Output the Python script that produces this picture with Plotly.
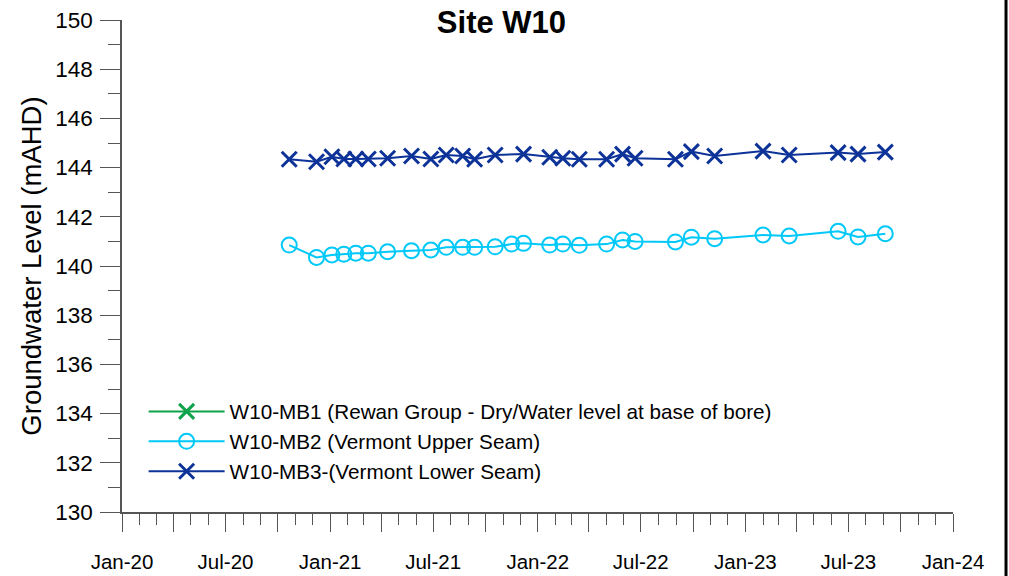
import plotly.graph_objects as go

# ---------------- data ----------------
# MB1 is dry (water level at base of bore) - no plotted levels
mb1_dates = ["2020-10-21"]
mb1_levels = [None]

mb2_dates = [
    "2020-10-21", "2020-12-08", "2021-01-04", "2021-01-25", "2021-02-15", "2021-03-09",
    "2021-04-12", "2021-05-24", "2021-06-27", "2021-07-24", "2021-08-22", "2021-09-12",
    "2021-10-18", "2021-11-16", "2021-12-07", "2022-01-22", "2022-02-14", "2022-03-15",
    "2022-05-02", "2022-05-30", "2022-06-21", "2022-08-31", "2022-09-28", "2022-11-08",
    "2023-02-01", "2023-03-19", "2023-06-13", "2023-07-18", "2023-09-04",
]
mb2_levels = [
    140.85, 140.35, 140.45, 140.48, 140.52, 140.52,
    140.58, 140.62, 140.65, 140.76, 140.76, 140.76,
    140.78, 140.89, 140.92, 140.85, 140.89, 140.84,
    140.89, 141.06, 141.00, 140.98, 141.17, 141.11,
    141.26, 141.22, 141.41, 141.18, 141.31,
]

mb3_dates = [
    "2020-10-21", "2020-12-08", "2021-01-04", "2021-01-25", "2021-02-15", "2021-03-09",
    "2021-04-12", "2021-05-24", "2021-06-27", "2021-07-24", "2021-08-22", "2021-09-12",
    "2021-10-18", "2021-12-07", "2022-01-22", "2022-02-14", "2022-03-15",
    "2022-05-02", "2022-05-30", "2022-06-21", "2022-08-31", "2022-09-28", "2022-11-08",
    "2023-02-01", "2023-03-19", "2023-06-13", "2023-07-18", "2023-09-04",
]
mb3_levels = [
    144.34, 144.24, 144.44, 144.35, 144.35, 144.35,
    144.38, 144.47, 144.35, 144.51, 144.47, 144.34,
    144.51, 144.55, 144.42, 144.38, 144.34,
    144.34, 144.55, 144.38, 144.34, 144.65, 144.47,
    144.67, 144.51, 144.61, 144.55, 144.63,
]

series_names = [
    "W10-MB1 (Rewan Group - Dry/Water level at base of bore)",
    "W10-MB2 (Vermont Upper Seam)",
    "W10-MB3-(Vermont Lower Seam)",
]

x_tick_vals = [
    "2020-01-01", "2020-04-01", "2020-07-01", "2020-10-01",
    "2021-01-01", "2021-04-01", "2021-07-01", "2021-10-01",
    "2022-01-01", "2022-04-01", "2022-07-01", "2022-10-01",
    "2023-01-01", "2023-04-01", "2023-07-01", "2023-10-01",
    "2024-01-01",
]
x_tick_text = [
    "Jan-20", "", "Jul-20", "",
    "Jan-21", "", "Jul-21", "",
    "Jan-22", "", "Jul-22", "",
    "Jan-23", "", "Jul-23", "",
    "Jan-24",
]

title_text = "Site W10"
y_title = "Groundwater Level (mAHD)"

# ---------------- figure ----------------
FONT = "Liberation Sans, Arial, sans-serif"
AX = "#555555"

fig = go.Figure()

fig.add_trace(go.Scatter(
    x=mb1_dates, y=mb1_levels, name=series_names[0], mode="lines+markers",
    line=dict(color="#0ea34a", width=2),
    marker=dict(symbol="x-thin", size=15, color="#0ea34a",
                line=dict(color="#0ea34a", width=3)),
    showlegend=True,
))
fig.add_trace(go.Scatter(
    x=mb2_dates, y=mb2_levels, name=series_names[1], mode="lines+markers",
    line=dict(color="#00c8f8", width=2),
    marker=dict(symbol="circle-open", size=15, color="#00c8f8",
                line=dict(color="#00c8f8", width=2)),
))
fig.add_trace(go.Scatter(
    x=mb3_dates, y=mb3_levels, name=series_names[2], mode="lines+markers",
    line=dict(color="#0d3399", width=2),
    marker=dict(symbol="x-thin", size=15, color="#0d3399",
                line=dict(color="#0d3399", width=3)),
))

# full-window figure (page body margin removed below)
fig.update_layout(
    width=1009, height=576,
    margin=dict(l=122, r=56, t=20, b=64, autoexpand=False),
    paper_bgcolor="white", plot_bgcolor="white",
    font=dict(family=FONT, size=20, color="black"),
    title=dict(text="<b>" + title_text + "</b>", x=0.497, xref="container", xanchor="center",
               y=0.962, yref="container", yanchor="middle",
               font=dict(family=FONT, size=31, color="black")),
    legend=dict(x=0.026, y=0.245, xanchor="left", yanchor="top",
                bgcolor="rgba(0,0,0,0)", font=dict(family=FONT, size=20.7),
                itemwidth=76, tracegroupgap=0),
    showlegend=True,
)

fig.update_xaxes(
    type="date", range=["2020-01-01", "2024-01-01"], automargin=False,
    tickmode="array", tickvals=x_tick_vals, ticktext=x_tick_text,
    ticks="outside", ticklen=18, tickwidth=1, tickcolor=AX,
    showline=True, linecolor=AX, linewidth=1.5,
    showgrid=False, zeroline=False,
    ticklabelstandoff=13, ticklabeloverflow="allow",
    tickfont=dict(family=FONT, size=20.5, color="black"),
    minor=dict(ticks="outside", ticklen=11, tickwidth=1, tickcolor=AX,
               dtick="M1", tick0="2020-01-01", showgrid=False),
)
fig.update_yaxes(
    range=[130, 150], tickmode="linear", tick0=130, dtick=2, automargin=False,
    ticks="outside", ticklen=20, tickwidth=1, tickcolor=AX,
    showline=True, linecolor=AX, linewidth=1.5,
    showgrid=False, zeroline=False,
    ticklabelstandoff=3, ticklabeloverflow="allow",
    tickfont=dict(family=FONT, size=22.5, color="black"),
    title=dict(text=y_title, font=dict(family=FONT, size=27.5, color="black"), standoff=6),
    minor=dict(ticks="outside", ticklen=12, tickwidth=1, tickcolor=AX,
               dtick=1, tick0=130, showgrid=False),
)

# right-hand frame line of the image
fig.add_shape(type="line", xref="paper", yref="paper",
              x0=1.0638, x1=1.0638, y0=-0.2, y1=1.1,
              line=dict(color="black", width=3))

fig.write_html("out.html", config={"displayModeBar": False},
               post_script="document.body.style.margin='0px';")
